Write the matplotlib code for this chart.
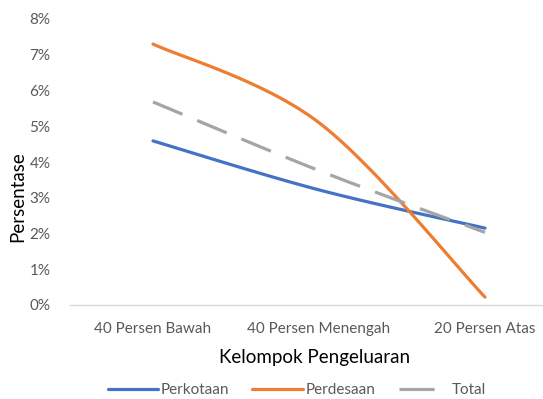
import matplotlib
matplotlib.use("Agg")
import matplotlib.pyplot as plt
from matplotlib.lines import Line2D
from matplotlib.ticker import FuncFormatter
import numpy as np

categories = ["40 Persen Bawah", "40 Persen Menengah", "20 Persen Atas"]
perkotaan = [4.59, 3.22, 2.15]
perdesaan = [7.30, 5.10, 0.22]
total = [5.68, 3.76, 2.03]

plt.rcParams["font.family"] = ["Lato", "DejaVu Sans"]


def smooth(xs, ys, n=60):
    """Excel-style smoothed line: Catmull-Rom converted to cubic Bezier."""
    pts = np.column_stack([xs, ys]).astype(float)
    out = []
    for i in range(len(pts) - 1):
        p0 = pts[max(i - 1, 0)]
        p1 = pts[i]
        p2 = pts[i + 1]
        p3 = pts[min(i + 2, len(pts) - 1)]
        c1 = p1 + (p2 - p0) / 6
        c2 = p2 - (p3 - p1) / 6
        t = np.linspace(0, 1, n)[:, None]
        seg = ((1 - t) ** 3) * p1 + 3 * ((1 - t) ** 2) * t * c1 \
            + 3 * (1 - t) * t ** 2 * c2 + t ** 3 * p2
        out.append(seg if i == 0 else seg[1:])
    curve = np.vstack(out)
    return curve[:, 0], curve[:, 1]


fig = plt.figure(figsize=(5.43, 3.99), dpi=100)
ax = fig.add_axes([70 / 543, 1 - 305 / 399, 498 / 543, 286 / 399])

x = np.arange(len(categories))
lw = 2.3
series = [
    ("Perkotaan", perkotaan, "#4472C4", "-"),
    ("Perdesaan", perdesaan, "#ED7D31", "-"),
    ("Total", total, "#A5A5A5", "--"),
]
handles = []
for name, vals, color, ls in series:
    sx, sy = smooth(x, vals)
    line, = ax.plot(sx, sy, color=color, lw=lw, label=name,
                    solid_capstyle="round")
    proxy = Line2D([], [], color=color, lw=lw, solid_capstyle="round")
    if ls == "--":
        line.set_dashes((10, 5))
        proxy.set_dashes((11, 30))
    handles.append(proxy)

ax.set_xlim(-0.5, 2.5)
ax.set_ylim(0, 8)
ax.set_yticks(range(0, 9))
ax.yaxis.set_major_formatter(FuncFormatter(lambda v, _: f"{v:.0f}%"))
ax.set_xticks(x)
ax.set_xticklabels(categories)

for side in ["top", "right", "left"]:
    ax.spines[side].set_visible(False)
ax.spines["bottom"].set_color("#D9D9D9")
ax.spines["bottom"].set_linewidth(1.0)
ax.tick_params(axis="both", length=0, colors="#595959", labelsize=11)
ax.tick_params(axis="x", pad=12)
ax.tick_params(axis="y", pad=14)

ax.set_xlabel("Kelompok Pengeluaran", fontsize=13.5, color="#000000")
ax.set_ylabel("Persentase", fontsize=13.5, color="#000000")
ax.xaxis.set_label_coords((315 - 70) / 498, -(357 - 305) / 286)
ax.yaxis.set_label_coords(-(70 - 18) / 498, (305 - 197) / 286)
ax.xaxis.label.set_va("center")
ax.yaxis.label.set_va("center")

fig.legend(handles=handles, labels=[s[0] for s in series], loc="center",
           bbox_to_anchor=(297 / 543, 1 - 390 / 399),
           ncol=3, frameon=False, fontsize=11, handlelength=3.3,
           handletextpad=0.2, columnspacing=1.5, labelcolor="#595959")

fig.savefig("out.png", dpi=100)
